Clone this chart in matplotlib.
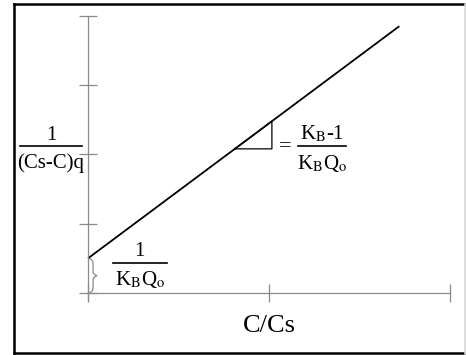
import numpy as np
import matplotlib
matplotlib.use("Agg")
import matplotlib.pyplot as plt
from matplotlib.lines import Line2D
from matplotlib.path import Path
from matplotlib.patches import PathPatch

plt.rcParams['font.family'] = ['Liberation Serif', 'DejaVu Serif']
plt.rcParams['mathtext.fontset'] = 'stix'

# linearised isotherm: 1/((Cs-C)q) against C/Cs
c_ratio = [0.0, 0.86]
inv_q = [0.5, 3.85]

# slope triangle sitting on the line
tri_x = [0.406, 0.508, 0.508]
tri_y = [2.08, 2.08, 2.48]

x_ticks = [0.0, 0.5, 1.0]
y_ticks = [0, 1, 2, 3, 4]

AXIS_GREY = '#8a8a8a'

fig = plt.figure(figsize=(4.66, 3.55), dpi=100)
ax = fig.add_axes([0, 0, 1, 1])
ax.set_xlim(-0.2431, 1.0442)
ax.set_ylim(-0.8947, 4.228)

# axes drawn as crossing spines
for side in ['top', 'right']:
    ax.spines[side].set_visible(False)
ax.spines['left'].set_position(('data', 0))
ax.spines['bottom'].set_position(('data', 0))
ax.spines['left'].set_bounds(-0.1, 4)
ax.spines['bottom'].set_bounds(0, 1)
for side in ['left', 'bottom']:
    ax.spines[side].set_color(AXIS_GREY)
    ax.spines[side].set_linewidth(0.9)
ax.set_xticks(x_ticks)
ax.set_yticks(y_ticks)
ax.set_xticklabels([])
ax.set_yticklabels([])
ax.tick_params(direction='inout', length=12.5, width=0.9, color=AXIS_GREY)
ax.patch.set_alpha(0)

ax.plot(c_ratio, inv_q, color='black', lw=1.3, solid_capstyle='butt')
ax.plot(tri_x + [tri_x[0]], tri_y + [tri_y[0]], color='black', lw=0.9)


def frac(xc, ybar, num, den, half_w, size=15):
    ax.plot([xc - half_w, xc + half_w], [ybar, ybar], color='black', lw=1.2)
    ax.text(xc, ybar + 0.02, num, ha='center', va='bottom', fontsize=size)
    ax.text(xc, ybar - 0.1, den, ha='center', va='top', fontsize=size)


# y label
frac(-0.102, 2.12, '1', '(Cs-C)q', 0.086)
# slope label
ax.text(0.545, 2.11, '=', ha='center', va='center', fontsize=16)
frac(0.647, 2.12, r'K$_\mathrm{B}$-1', r'K$_\mathrm{B}$Q$_\mathrm{o}$', 0.066)
# intercept label
frac(0.143, 0.44, '1', r'K$_\mathrm{B}$Q$_\mathrm{o}$', 0.074)

ax.text(0.5, -0.48, 'C/Cs', ha='center', va='center', fontsize=19)

# brace marking the intercept
bx0, bx1, bx2 = 0.003, 0.014, 0.025
ytop, ymid, ybot = 0.5, 0.25, 0.0
verts = [(bx0, ytop), (bx1, ytop - 0.02), (bx1, ytop - 0.08),
         (bx1, ymid + 0.05), (bx1, ymid + 0.02), (bx2, ymid),
         (bx1, ymid - 0.02), (bx1, ymid - 0.05),
         (bx1, ybot + 0.08), (bx1, ybot + 0.02), (bx0, ybot)]
codes = [Path.MOVETO, Path.CURVE3, Path.CURVE3,
         Path.LINETO, Path.CURVE3, Path.CURVE3,
         Path.CURVE3, Path.CURVE3,
         Path.LINETO, Path.CURVE3, Path.CURVE3]
ax.add_patch(PathPatch(Path(verts, codes), fill=False, edgecolor=AXIS_GREY, lw=0.9))

# outer frame
x0, x1 = 14 / 466, 465 / 466
y0, y1 = 2 / 355, 351 / 355
for xs, ys, c in [([x0, x0], [y0, y1], 'black'), ([x0, 1], [y1, y1], 'black'),
                  ([x0, 1], [y0, y0], 'black'), ([x1, x1], [y0, y1], '#d8d8d8')]:
    fig.add_artist(Line2D(xs, ys, transform=fig.transFigure, color=c, lw=1.8))

fig.savefig('out.png', dpi=100)
